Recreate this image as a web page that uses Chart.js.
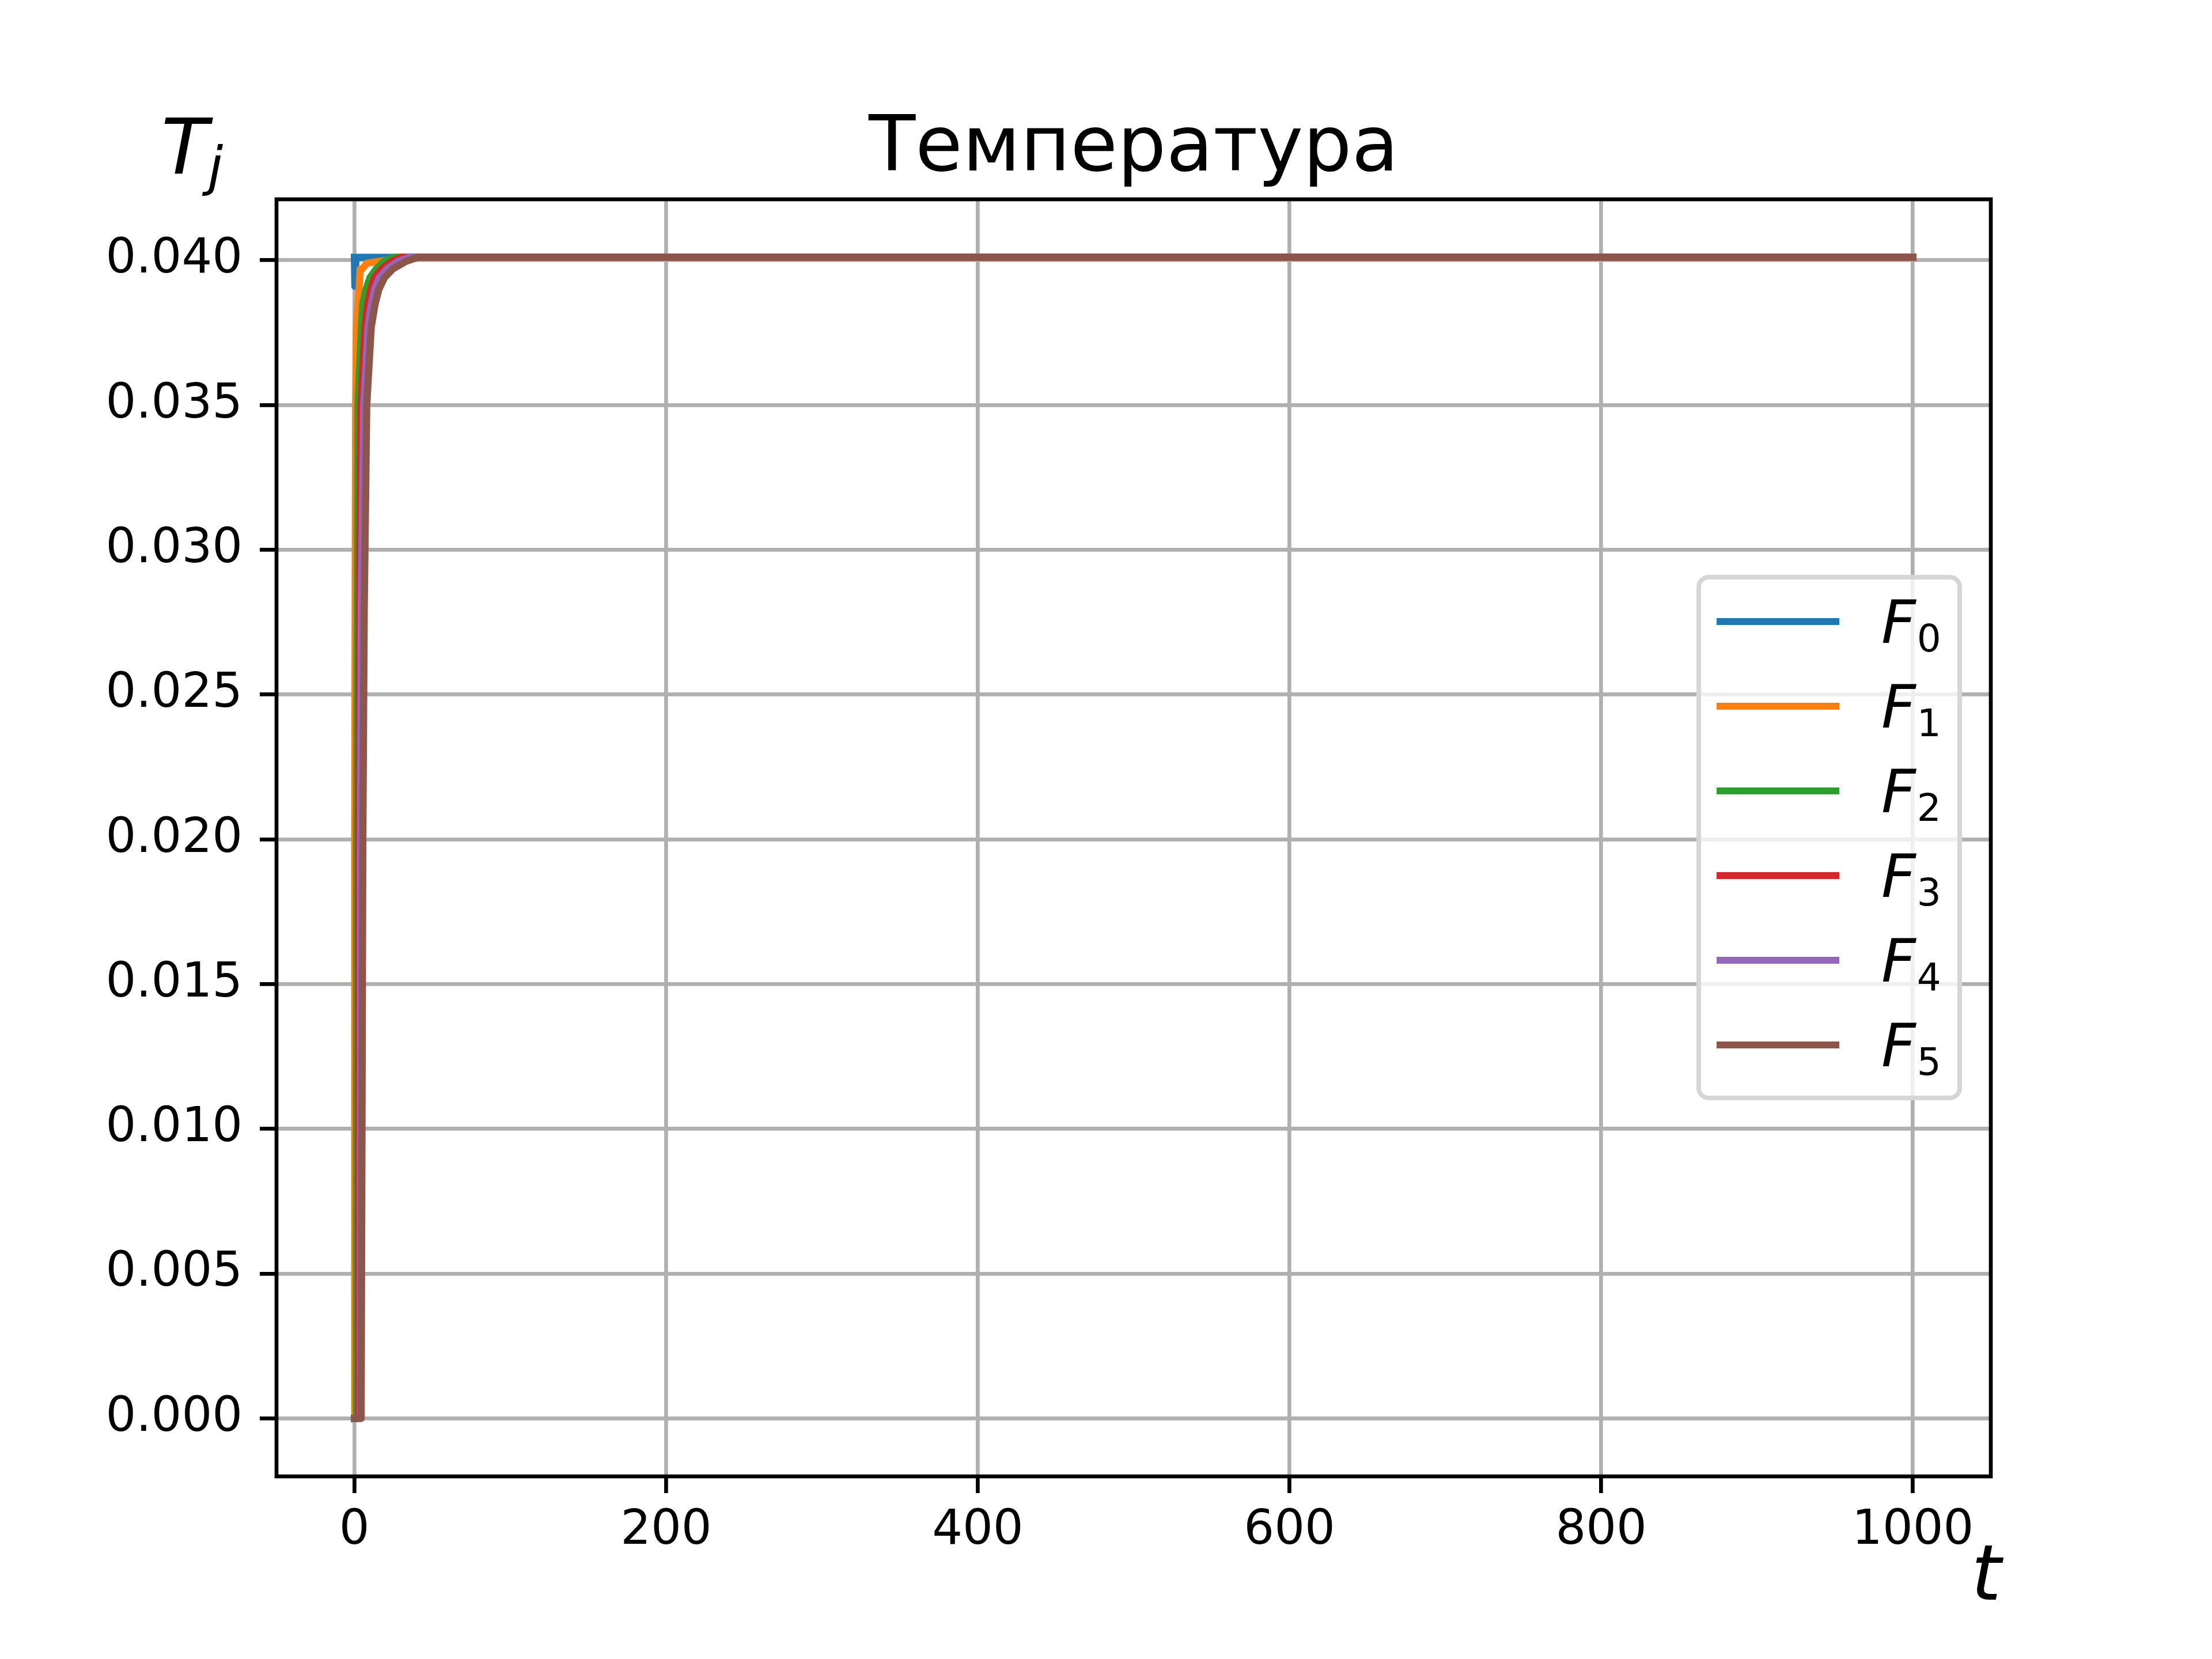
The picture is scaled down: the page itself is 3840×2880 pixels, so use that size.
<!DOCTYPE html>
<html>
<head>
<meta charset="utf-8">
<script src="https://cdn.jsdelivr.net/npm/chart.js@4.4.1/dist/chart.umd.min.js"></script>
<style>
  html, body { margin: 0; padding: 0; background: #fff; }
  #wrap { position: relative; width: 3840px; height: 2880px; font-family: 'DejaVu Sans', sans-serif; color: #000; }
  #chart { position: absolute; left: 0; top: 0; }
  .lbl { position: absolute; white-space: nowrap; line-height: 1; }
  .it { font-style: italic; }
  #legend { position: absolute; left: 2945px; top: 998px; width: 461px; height: 912px; box-sizing: border-box;
            border: 8px solid #d6d6d6; border-radius: 21px; background: rgba(255,255,255,0.8); }
  .handle { position: absolute; left: 2980px; width: 213px; height: 12.5px; }
  .sub { position: relative; font-size: 66px; top: 15px; margin-left: 2px; }
</style>
</head>
<body>
<div id="wrap">
  <canvas id="chart" width="3840" height="2880"></canvas>
  <div class="lbl" style="left:0; width:3936px; text-align:center; top:184px; font-size:133px;">Температура</div>
  <div class="lbl" style="left:280px; top:190px; font-size:133px;"><span class="it">T</span><span class="it" style="position:relative; font-size:93px; top:19px;">j</span></div>
  <div class="lbl it" style="left:3422px; top:2665px; font-size:133px;">t</div>
  <div id="legend"></div>
</div>
<script>
// Температура T_j(t) для F0..F5
const xTicks = [0, 200, 400, 600, 800, 1000];
const yTicks = [0, 0.005, 0.010, 0.015, 0.020, 0.025, 0.030, 0.035, 0.040];
const subs   = ['0', '1', '2', '3', '4', '5'];
const colors = ['#1f77b4', '#ff7f0e', '#2ca02c', '#d62728', '#9467bd', '#8c564b'];

// значения (t, T)
const tF0 = [0, 0.3, 1, 1000];
const F0  = [0.0401, 0.0391, 0.0401, 0.0401];

const tF1 = [0, 0.2, 0.5, 0.8, 1.3, 2.3, 3.0, 3.7, 5, 8, 15, 30, 1000];
const F1  = [0, 0.020, 0.028, 0.035, 0.0377, 0.0385, 0.0390, 0.0397, 0.0397, 0.0399, 0.03995, 0.0401, 0.0401];

const tF2 = [0, 1.3, 1.4, 1.9, 2.3, 4.5, 5.4, 7.5, 10, 14, 19, 25, 1000];
const F2  = [0, 0, 0.020, 0.028, 0.035, 0.0377, 0.0385, 0.0390, 0.0394, 0.0397, 0.03996, 0.0401, 0.0401];

const tF3 = [0, 2.6, 2.7, 3.1, 4.2, 6.8, 8.5, 10.5, 13, 17.5, 24, 30, 1000];
const F3  = [0, 0, 0.020, 0.028, 0.035, 0.0377, 0.0385, 0.0390, 0.0394, 0.0397, 0.03996, 0.0401, 0.0401];

const tF4 = [0, 3.8, 3.9, 4.4, 6.0, 8.8, 10.9, 13, 16, 21, 28, 35, 1000];
const F4  = [0, 0, 0.020, 0.028, 0.035, 0.0377, 0.0385, 0.0390, 0.0394, 0.0397, 0.03996, 0.0401, 0.0401];

const tF5 = [0, 4.3, 5.4, 6.3, 7.9, 10.8, 13.3, 15.7, 19.3, 24.6, 32.9, 40.5, 1000];
const F5  = [0, 0, 0.020, 0.028, 0.035, 0.0377, 0.0385, 0.0390, 0.0394, 0.0397, 0.03996, 0.0401, 0.0401];

const series = [[tF0, F0], [tF1, F1], [tF2, F2], [tF3, F3], [tF4, F4], [tF5, F5]];

// рамка вокруг области графика (все четыре стороны)
const frame = {
  id: 'frame',
  afterDatasetsDraw(chart) {
    const { ctx, chartArea: a } = chart;
    ctx.save();
    ctx.strokeStyle = '#000';
    ctx.lineWidth = 6.7;
    ctx.lineJoin = 'miter';
    ctx.strokeRect(a.left, a.top, a.right - a.left, a.bottom - a.top);
    ctx.restore();
  }
};

const gridOpts = { color: '#b0b0b0', lineWidth: 6.7, tickColor: '#000', tickLength: 29, tickWidth: 6.7 };

new Chart(document.getElementById('chart'), {
  type: 'line',
  data: {
    datasets: series.map(([t, v], i) => ({
      label: 'F' + subs[i],
      data: t.map((x, j) => ({ x, y: v[j] })),
      borderColor: colors[i],
      borderWidth: 12.5,
      borderCapStyle: 'square',
      borderJoinStyle: 'round',
      pointRadius: 0,
      tension: 0,
      fill: false,
      order: series.length - i,   // как в matplotlib: последняя кривая сверху
    }))
  },
  options: {
    responsive: false,
    animation: false,
    devicePixelRatio: 1,
    layout: { padding: { left: 0, top: 346, right: 384, bottom: 0 } },
    plugins: { legend: { display: false }, title: { display: false }, tooltip: { enabled: false } },
    scales: {
      x: {
        type: 'linear', min: -50, max: 1050,
        afterBuildTicks: s => { s.ticks = xTicks.map(value => ({ value })); },
        afterFit: s => { s.height = 317; },
        grid: gridOpts,
        border: { display: false },
        ticks: { font: { size: 83, family: 'DejaVu Sans' }, color: '#000', padding: 17, maxRotation: 0, autoSkip: false,
                 callback: v => String(v) },
      },
      y: {
        type: 'linear', min: -0.002005, max: 0.042105,
        afterBuildTicks: s => { s.ticks = yTicks.map(value => ({ value })); },
        afterFit: s => { s.width = 480; },
        grid: gridOpts,
        border: { display: false },
        ticks: { font: { size: 83, family: 'DejaVu Sans' }, color: '#000', padding: 30, autoSkip: false,
                 callback: v => v.toFixed(3) },
      }
    }
  },
  plugins: [frame]
});

// легенда
const wrap = document.getElementById('wrap');
subs.forEach((s, i) => {
  const cy = 1079 + 147 * i;
  const h = document.createElement('div');
  h.className = 'handle';
  h.style.top = (cy - 6.25) + 'px';
  h.style.background = colors[i];
  wrap.appendChild(h);
  const l = document.createElement('div');
  l.className = 'lbl';
  l.style.left = '3266px';
  l.style.top = (cy - 51) + 'px';
  l.style.fontSize = '104px';
  l.innerHTML = '<span class="it">F</span><span class="sub">' + s + '</span>';
  wrap.appendChild(l);
});
</script>
</body>
</html>
